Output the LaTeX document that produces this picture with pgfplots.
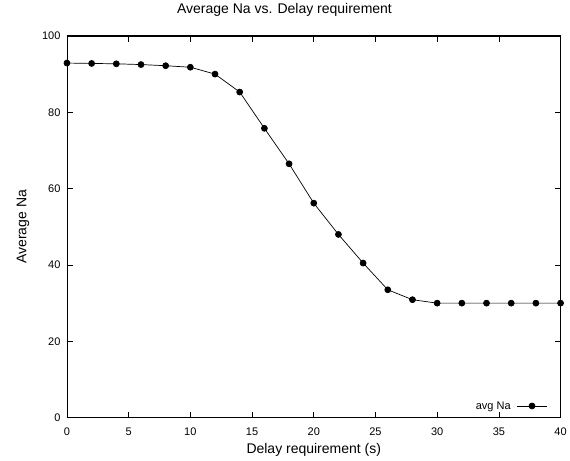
\documentclass[border=0pt]{standalone}
\usepackage{pgfplots}
\pgfplotsset{compat=1.18}
\usepackage{fontspec}
\setmainfont{Liberation Sans}

\begin{document}
\begin{tikzpicture}[x=1pt,y=1pt]
\begin{axis}[
  name=main,
  scale only axis,
  width=494pt, height=382pt,
  xmin=0, xmax=40, ymin=0, ymax=100,
  xtick={0,5,...,40}, ytick={0,20,...,100},
  tick align=inside,
  tick style={black, line width=0.6pt},
  major tick length=6pt,
  separate axis lines,
  axis lines=box,
  x axis line style={black, line width=1.5pt},
  y axis line style={black, line width=0.8pt},
  /pgf/number format/assume math mode=true,
  ticklabel style={font=\fontsize{11}{13}\selectfont},
  yticklabel style={anchor=east, xshift=-3pt},
  xticklabel style={anchor=base, yshift=-17.6pt},
  label style={font=\fontsize{14}{16}\selectfont},
  title style={font=\fontsize{14}{16}\selectfont,
    at={(axis description cs:0.4407,1.0432)}, anchor=base},
  title={Average Na vs. Delay requirement},
  xlabel={Delay requirement (s)},
  ylabel={Average Na},
  xlabel style={at={(axis description cs:0.5,-0.0942)}, anchor=base},
  ylabel style={at={(axis description cs:-0.0822,0.5)}, anchor=base},
  legend plot pos=right,
  legend style={draw=none, fill=none, at={(axis description cs:0.9737,0.0306)},
    anchor=east, font=\fontsize{11}{13}\selectfont, inner sep=0pt,
    nodes={inner sep=2pt}, column sep=4pt},
  legend image code/.code={%
    \draw[mark repeat=2,mark phase=2] plot coordinates {(0pt,0pt)(15pt,0pt)(30pt,0pt)};},
]
\addplot[black, line width=0.7pt, mark=*, mark size=3pt, mark options={fill=black}]
  coordinates {
  (0,92.9) (2,92.8) (4,92.7) (6,92.5) (8,92.2) (10,91.8) (12,90.0)
  (14,85.3) (16,75.8) (18,66.5) (20,56.2) (22,48.0) (24,40.5)
  (26,33.5) (28,30.9) (30,30.0) (32,30.0) (34,30.0) (36,30.0)
  (38,30.0) (40,30.0)
  };
\addlegendentry{avg Na}
\end{axis}
% page frame around the axis
\useasboundingbox ([xshift=-67pt,yshift=-43.3pt]main.south west)
  rectangle ([xshift=9pt,yshift=33.5pt]main.north east);
\end{tikzpicture}
\end{document}
